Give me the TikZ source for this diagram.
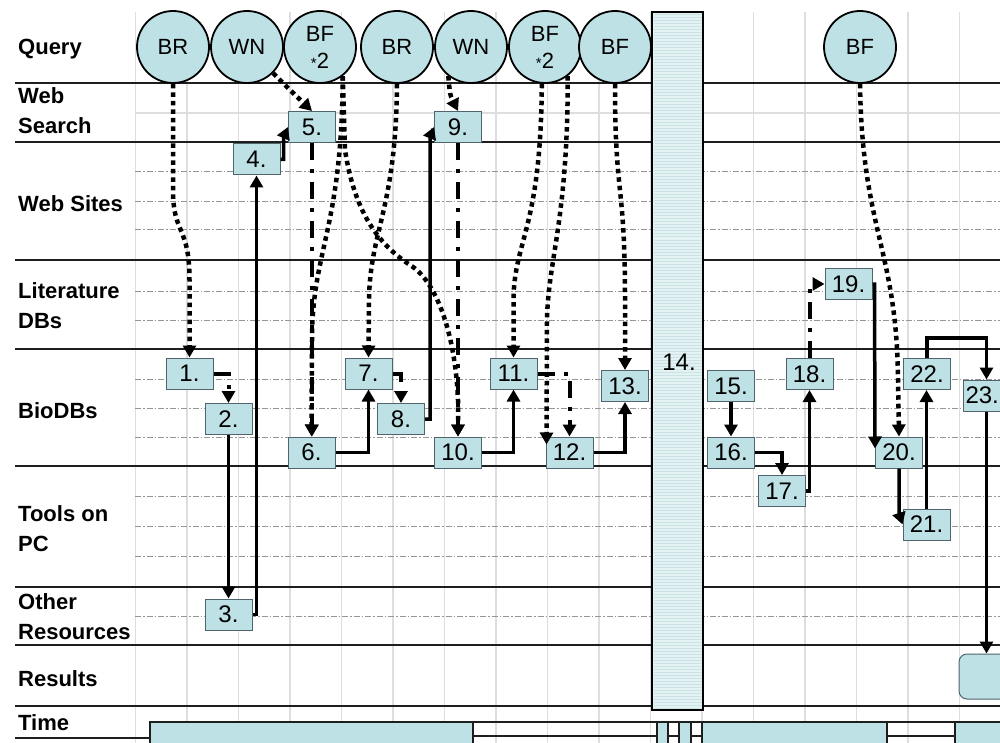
\documentclass[tikz,border=0pt]{standalone}
\usepackage{fontspec}
\setmainfont{Liberation Sans}
\usetikzlibrary{arrows.meta,calc}
\definecolor{cy}{RGB}{190,225,230}
\definecolor{cylight}{RGB}{228,242,243}
\definecolor{cystripe}{RGB}{200,226,229}
\definecolor{boxline}{RGB}{80,100,110}
\definecolor{gridc}{RGB}{222,222,222}
\definecolor{ddc}{RGB}{150,150,150}
\definecolor{lanec}{RGB}{30,30,30}
\tikzset{
  lbl/.style={font=\fontsize{22}{30}\selectfont\bfseries, anchor=north west, inner sep=0pt, align=left},
  qc/.style={circle, draw=black, line width=1.8pt, fill=cy, minimum size=72pt, inner sep=0pt,
    font=\fontsize{22}{27}\selectfont, align=center},
  nb/.style={rectangle, draw=boxline, line width=1pt, fill=cy, minimum width=47pt, minimum height=31pt,
    inner sep=0pt, font=\fontsize{24}{24}\selectfont},
  tipA/.tip={Triangle[width=13pt,length=12pt]},
  dotline/.style={line width=4.5pt, dash pattern=on 4.5pt off 4pt, -tipA},
  solline/.style={line width=3.5pt, -tipA},
  ddline/.style={line width=4pt, dash pattern=on 17pt off 9pt on 4pt off 9pt, -tipA},
  laneline/.style={draw=lanec, line width=2.8pt},
  gridline/.style={draw=gridc, line width=1.2pt},
  ddgrid/.style={draw=ddc, line width=0.9pt, dash pattern=on 6pt off 2pt on 1.5pt off 2pt},
  tbout/.style={draw=lanec, line width=2.2pt},
}
\begin{document}
\begin{tikzpicture}[x=1pt,y=-1pt]
\useasboundingbox (0,0) rectangle (1000,743);
\clip (0,0) rectangle (1000,743);
\fill[white] (0,0) rectangle (1000,743);
% grid
\foreach \k in {0,...,17} {
  \draw[gridline] ({135.5+51.5*\k},12) -- ({135.5+51.5*\k},743);
}
\draw[gridline] (135,113) -- (1000,113);
\foreach \yy in {171,201,229,291,320,379,408,437,496,526,556,616} {
  \draw[ddgrid] (135,\yy) -- (1000,\yy);
}
% lane lines
\foreach \yy in {83,142,260,349,466,587,645,706} {
  \draw[laneline] (15,\yy) -- (1000,\yy);
}
\draw[laneline] (15,738) -- (150,738);
% column 14
\node[draw=black, line width=2pt, fill=cylight, minimum width=51pt, minimum height=698pt, inner sep=0pt] (col) at (677.5,361) {};
\foreach \yy in {15,18,...,708} { \draw[cystripe, line width=1pt] (653.5,\yy) -- (701.5,\yy); }
\draw[black, line width=2.2pt] (652,12) rectangle (703,710);
\node[font=\fontsize{24}{24}\selectfont] (n14) at (679,362) {14.};
% time bar
\fill[cy] (150,722) rectangle (473,750);
\fill[cy] (657,722) rectangle (668,750);
\fill[cy] (679,722) rectangle (691,750);
\fill[cy] (702,722) rectangle (887,750);
\fill[cy] (955,722) rectangle (1010,750);
\draw[tbout] (150,750) -- (150,722) -- (1010,722);
\draw[tbout] (473,736) -- (657,736) (668,736) -- (679,736) (691,736) -- (702,736) (887,736) -- (955,736);
\foreach \xx in {473,657,668,679,691,702,887,955} { \draw[tbout] (\xx,722) -- (\xx,750); }
% labels
\node[lbl] (lq) at (18,39) {Query};
\node[lbl] (lw) at (18,87) {Web\\Search};
\node[lbl] (ls) at (18,195) {Web Sites};
\node[lbl] (ll) at (18,282) {Literature\\DBs};
\node[lbl] (lb) at (18,402) {BioDBs};
\node[lbl] (lt) at (18,505) {Tools on\\PC};
\node[lbl] (lo) at (18,593) {Other\\Resources};
\node[lbl] (lr) at (18,670) {Results};
\node[lbl] (ltm) at (18,714) {Time};
% query circles
\node[qc] (c1) at (173,47) {BR};
\node[qc] (c2) at (247,47) {WN};
\node[qc] (c3) at (320,47) {BF\\{\fontsize{15}{15}\selectfont*}2};
\node[qc] (c4) at (397,47) {BR};
\node[qc] (c5) at (471,47) {WN};
\node[qc] (c6) at (545,47) {BF\\{\fontsize{15}{15}\selectfont*}2};
\node[qc] (c7) at (615,47) {BF};
\node[qc] (c8) at (860,47) {BF};
% boxes
\node[nb] (b1) at (189.5,373.5) {1.};
\node[nb] (b2) at (228.5,419) {2.};
\node[nb] (b3) at (228.5,614.5) {3.};
\node[nb] (b4) at (256.5,159.5) {4.};
\node[nb] (b5) at (312,127) {5.};
\node[nb] (b6) at (311.5,452.5) {6.};
\node[nb] (b7) at (368.5,373.5) {7.};
\node[nb] (b8) at (401,419) {8.};
\node[nb] (b9) at (458,127) {9.};
\node[nb] (b10) at (458,452.5) {10.};
\node[nb] (b11) at (513.5,373.5) {11.};
\node[nb] (b12) at (569.5,452.5) {12.};
\node[nb] (b13) at (625,386) {13.};
\node[nb] (b15) at (731,386) {15.};
\node[nb] (b16) at (731,452.5) {16.};
\node[nb] (b17) at (782,491) {17.};
\node[nb] (b18) at (809.5,374) {18.};
\node[nb] (b19) at (848.5,284) {19.};
\node[nb] (b20) at (899,452.5) {20.};
\node[nb] (b21) at (926.5,524.5) {21.};
\node[nb] (b22) at (927,374) {22.};
\node[nb] (b23) at (986.5,395.5) {\makebox[42pt][l]{23.}};
\node[nb, rounded corners=8pt, minimum width=85pt, minimum height=45pt] (res) at (1001.5,676.5) {};
% dotted connectors from queries
\draw[dotline] (c1.south) -- (173,190) .. controls (173,235) and (189.5,225) .. (189.5,280) -- (b1.north);
\draw[dotline] (c2.-45) .. controls (292,92) .. (b5.north);
\draw[dotline] (c3.-52) .. controls (342,230) and (312,250) .. (312,340) -- (b6.north);
\draw[dotline] (c3.-52) -- (345,150) .. controls (355,215) and (380,245) .. (410,265) .. controls (435,280) and (455,330) .. (458,400) -- (b10.north);
\draw[dotline] (c4.south) .. controls (396,210) and (370,230) .. (369,300) -- (b7.north);
\draw[dotline] (c5.-128) .. controls (450,95) .. (b9.north);
\draw[dotline] (c6.-95) .. controls (541,230) and (514,240) .. (513.5,300) -- (b11.north);
\draw[dotline] (c6.-52) .. controls (568,220) and (548,260) .. (547,320) -- ($(b12.north west)+(1,8)$);
\draw[dotline] (c7.south) .. controls (615,200) and (625,180) .. (625,300) -- (b13.north);
\draw[dotline] (c8.south) .. controls (862,230) and (897,250) .. (898,380) -- (b20.north);
% dash-dot connectors
\draw[ddline] (b1.east) -| (b2.north);
\draw[ddline] (b5.south) -- (b5.south |- b6.north);
\draw[ddline] (b7.east) -| (b8.north);
\draw[ddline] (b9.south) -- (b10.north);
\draw[ddline] (b11.east) -| (b12.north);
\draw[ddline] (b18.north) |- (b19.west);
% solid connectors
\draw[solline] (b2.south) -- (b3.north);
\draw[solline] (b3.east) -| (b4.south);
\draw[solline] (b4.east) -- ++(3,0) -- ++(0,-22) -- (b5.west);
\draw[solline] (b6.east) -| (b7.south);
\draw[solline] (b8.east) -- ++(5,0) -- ++(0,-282) -- (b9.west);
\draw[solline] (b10.east) -| (b11.south);
\draw[solline] (b12.east) -| (b13.south);
\draw[solline] (b15.south) -- (b16.north);
\draw[solline] (b16.east) -| (b17.north);
\draw[solline] (b17.east) -| (b18.south);
\draw[solline] (b19.east) -- ++(2,0) -- ($(b20.west)+(0,-4)$);
\draw[solline] (b20.south) -- ++(0,45) -- (b21.west);
\draw[solline] (b21.north) -- (b21.north |- b22.south);
\draw[solline] (b22.north) -- ++(0,-20) -| (b23.north);
\draw[solline] (b23.south) -- (b23.south |- res.north);
\end{tikzpicture}
\end{document}
